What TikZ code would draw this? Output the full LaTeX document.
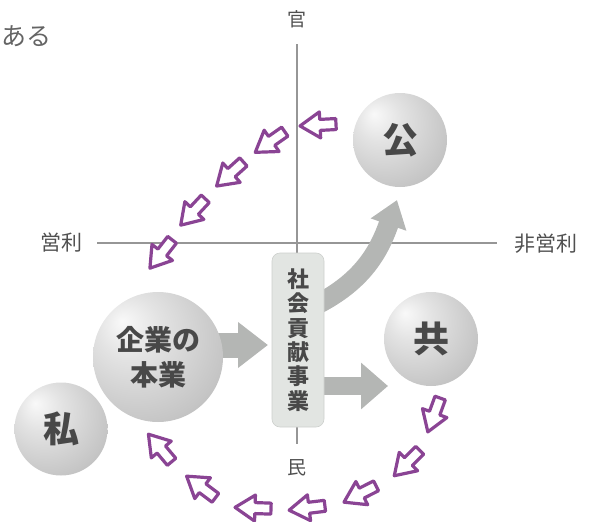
\documentclass[tikz,border=0pt]{standalone}
\usepackage{fontspec}
\newfontfamily\jp{Noto Sans CJK JP}
\usetikzlibrary{arrows.meta}
\definecolor{pur}{RGB}{138,68,148}
\definecolor{axisgray}{RGB}{150,150,150}
\definecolor{arrgray}{RGB}{180,182,180}
\definecolor{boxfill}{RGB}{226,229,226}
\definecolor{boxline}{RGB}{205,208,205}
\definecolor{txtdark}{RGB}{72,72,72}
\definecolor{lbl}{RGB}{80,80,80}
\pgfdeclareradialshading{sph}{\pgfpoint{-14bp}{14bp}}{color(0bp)=(gray!5); color(12bp)=(gray!22); color(32bp)=(gray!45); color(48bp)=(gray!68); color(62bp)=(gray!85)}
\begin{document}
\begin{tikzpicture}[x=1pt,y=-1pt,
  ball/.style={circle, shading=sph, minimum size=#1, inner sep=0pt, text=txtdark},
  bigtxt/.style={font=\jp\bfseries\fontsize{36}{38}\selectfont},
  midtxt/.style={font=\jp\bfseries\fontsize{28}{35}\selectfont, align=center},
  lab/.style={font=\jp\fontsize{21}{23}\selectfont, text=lbl, inner sep=0pt},
  axisline/.style={draw=axisgray, line width=1.4},
  garrow/.style={draw=arrgray, line width=#1},
  parr/.pic={\draw[pur, line width=3.2, line join=round, fill=white]
     (-18,5.5) -- (-2,5.5) -- (-2,13) -- (18,0) -- (-2,-13) -- (-2,-5.5) -- (-18,-5.5) -- cycle;}
]
\useasboundingbox (0,0) rectangle (589,522);

% labels
\node[lab, anchor=west, font=\jp\fontsize{25}{27}\selectfont, text={rgb,255:red,100;green,100;blue,100}] (aru) at (1,36) {ある};
\node[lab, font=\jp\fontsize{19}{21}\selectfont] (kan) at (297,19) {官};
\node[lab] (eiri) at (61,243) {営利};
\node[lab] (hieiri) at (546,244) {非営利};
\node[lab, font=\jp\fontsize{19}{21}\selectfont] (min) at (297,468) {民};

% axes
\coordinate (vt) at (297,44);
\coordinate (vb) at (297,444);
\coordinate (hl) at (97,243);
\coordinate (hr) at (497,243);
\draw[axisline] (vt) -- (vb);
\draw[axisline] (hl) -- (hr);

% gray arrows
\coordinate (a1s) at (212,345);
\coordinate (a1e) at (268,345);
\coordinate (a2s) at (318,386);
\coordinate (a2e) at (388,386);
\coordinate (a3s) at (318,304);
\coordinate (a3e) at (397,200);
\draw[garrow=25, -{Triangle[width=44pt,length=30pt]}] (a1s) -- (a1e);
\draw[garrow=18, -{Triangle[width=45pt,length=27pt]}] (a2s) -- (a2e);
\draw[garrow=20, -{Triangle[width=36pt,length=26pt]}] (a3s) .. controls (360,282) and (378,255) .. (a3e);

% box
\node[draw=boxline, fill=boxfill, rounded corners=8, minimum width=52, minimum height=174, line width=0.6] (box) at (298,340) {};
\node[font=\jp\bfseries\fontsize{22}{24.4}\selectfont, text=txtdark, align=center, inner sep=0pt] (boxtxt) at (box.center) {社\\会\\貢\\献\\事\\業};

% spheres
\node[ball=94, bigtxt] (ko) at (400,140) {公};
\node[ball=94, bigtxt] (kyo) at (431,339) {共};
\node[ball=130, midtxt] (kigyo) at (158,357) {企業の\\本業};
\node[ball=93, bigtxt] (shi) at (61,429) {私};

% purple arrows upper
\path (318,125) pic[rotate=183] {parr};
\path (270,142) pic[rotate=215] {parr};
\path (230,174) pic[rotate=222] {parr};
\path (193,212) pic[rotate=227] {parr};
\path (161,254) pic[rotate=232] {parr};
% purple arrows lower
\path (434,415) pic[rotate=250] {parr};
\path (407,463) pic[rotate=225] {parr};
\path (360,494) pic[rotate=207] {parr};
\path (307,508) pic[rotate=187] {parr};
\path (253,508) pic[rotate=178] {parr};
\path (201,487) pic[rotate=143] {parr};
\path (160,448) pic[rotate=130] {parr};
\end{tikzpicture}
\end{document}
